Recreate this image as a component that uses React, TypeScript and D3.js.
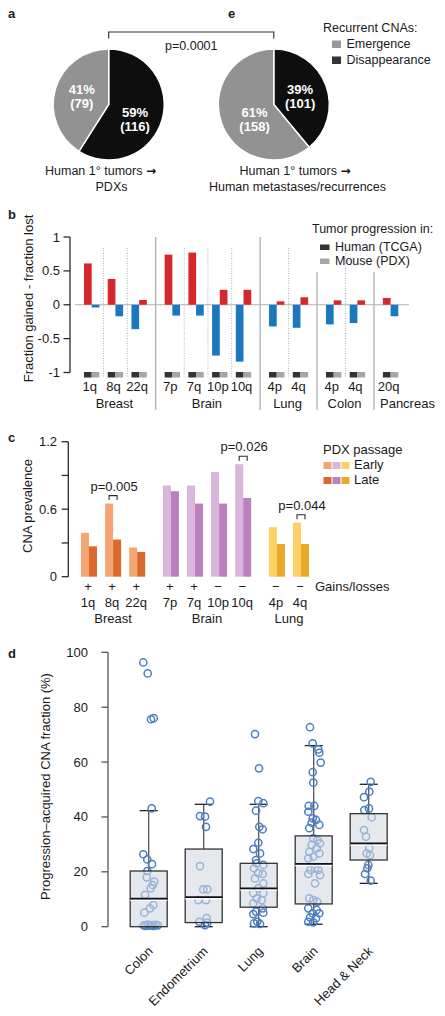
import React from "react";
import * as d3 from "d3";

const W = 445;
const H = 1016;
const FONT = "'Liberation Sans', Arial, Helvetica, sans-serif";

// ---------------- Panels a / e : pies ----------------
const pieCategories = ["Emergence", "Disappearance"];
const pieLegendColors = ["#999999", "#333333"];
const pieSliceColors = ["#0e0e0e", "#929292"]; // slice order: disappearance, emergence
const pieAPercent = [59, 41];
const pieACounts = [116, 79];
const pieEPercent = [39, 61];
const pieECounts = [101, 158];
const pieAELabelsA = ["Human 1° tumors ", "PDXs"];
const pieAELabelsE = ["Human 1° tumors ", "Human metastases/recurrences"];
const pieAEPValue = "p=0.0001";

// ---------------- Panel b ----------------
const bArms = ["1q", "8q", "22q", "7p", "7q", "10p", "10q", "4p", "4q", "4p", "4q", "20q"];
const bTissues = ["Breast", "Breast", "Breast", "Brain", "Brain", "Brain", "Brain", "Lung", "Lung", "Colon", "Colon", "Pancreas"];
const bHuman = [0.61, 0.38, -0.36, 0.74, 0.77, -0.75, -0.84, -0.32, -0.34, -0.29, -0.27, 0.1];
const bMouse = [-0.04, -0.17, 0.07, -0.16, -0.16, 0.22, 0.22, 0.05, 0.11, 0.065, 0.065, -0.17];
const bTicks = [1, 0.5, 0, -0.5, -1];
const bLegend = ["Human (TCGA)", "Mouse (PDX)"];

// ---------------- Panel c ----------------
const cArms = ["1q", "8q", "22q", "7p", "7q", "10p", "10q", "4p", "4q"];
const cTissues = ["Breast", "Breast", "Breast", "Brain", "Brain", "Brain", "Brain", "Lung", "Lung"];
const cSigns = ["+", "+", "+", "+", "+", "\u2212", "\u2212", "\u2212", "\u2212"];
const cEarly = [0.39, 0.65, 0.26, 0.81, 0.81, 0.93, 1.0, 0.44, 0.48];
const cLate = [0.27, 0.33, 0.22, 0.76, 0.65, 0.65, 0.7, 0.29, 0.29];
const cTicks = [0, 0.3, 0.6, 0.9, 1.2];
const cTickLabels = ["0", "", "0.6", "", "1.2"];
const cPIndex = [1, 6, 8];
const cPText = ["p=0.005", "p=0.026", "p=0.044"];
const cTissueOrder = ["Breast", "Brain", "Lung"];
const cEarlyColors = ["#f5a571", "#dab5dc", "#fcd067"];
const cLateColors = ["#d96a2b", "#bb81bf", "#e9a825"];

// ---------------- Panel d ----------------
const dGroups = ["Colon", "Endometrium", "Lung", "Brain", "Head & Neck"];
const dQ1 = [0, 1.5, 7.1, 8.3, 24.3];
const dMedian = [10.2, 10.8, 14.0, 22.9, 30.4];
const dQ3 = [20.3, 28.3, 23.1, 33.1, 41.2];
const dLow = [0, 0, 0, 0.9, 15.8];
const dHigh = [42.3, 44.6, 44.6, 66.0, 51.9];
const dTicks = [0, 20, 40, 60, 80, 100];

const dColonVals = [96.3, 92.3, 75.6, 76.0, 43.1, 26.4, 24.5, 22.8, 20.3, 18.0, 16.4, 15.2, 14.0, 11.6, 7.9, 6.7, 5.1, 0.5, 0.3, 0.8, 0.4, 0.6, 0.3, 0.7, 0.5];
const dColonJit = [-5.4, -1, 2.3, 5, 3, -5.4, -1.4, 3.3, -1.4, -2, 5.6, 4, 2, -3.7, 4.6, 1.3, -4.4, -5, -3, -1, 1, 3, 5, 7, 9];
const dEndoVals = [45.6, 40.3, 40.1, 36.4, 22.1, 13.6, 13.6, 9.7, 9.7, 3.1, 1.8, 1.5, 0.6];
const dEndoJit = [6.3, -3.7, 1.3, 2.3, -3.7, -0.4, 3.6, -5.4, 2.3, 3, -4.4, 3.6, 1.3];
const dLungVals = [70.2, 57.7, 45.8, 45.0, 42.3, 36.4, 35.5, 30.6, 28.3, 26.7, 24.3, 23.1, 22.5, 21.3, 19.5, 19.2, 17.6, 15.8, 14.0, 12.2, 12.2, 10.3, 9.7, 8.5, 6.7, 5.5, 4.6, 5.1, 1.2, 1.0, 1.8];
const dLungJit = [-3.7, 0.3, -0.4, 4.6, -2.7, 0.6, 4, -0.4, -5.4, 1.3, -2.7, -2, 4.6, -4.7, -0.4, 4, -3.7, 4.6, -0.4, -5.4, 4.6, -2, 3, -5.4, 4, -2.7, -5.4, 4.6, -4.7, 1.3, -1.4];
const dBrainVals = [72.7, 66.8, 64.6, 63.4, 59.8, 56.3, 52.5, 44.0, 44.0, 41.9, 39.5, 38.9, 37.9, 37.1, 35.9, 32.2, 31.6, 30.4, 29.8, 28.6, 27.3, 26.7, 25.5, 24.9, 21.3, 20.7, 20.7, 19.2, 18.8, 15.8, 10.3, 9.7, 9.1, 6.7, 6.1, 4.9, 4.9, 3.4, 3.1, 1.8, 1.6];
const dBrainJit = [-3.7, -1, 4.6, 5.6, 7, -1, -0.4, -5, 0.6, -5.4, -1, 2.3, -2, 5.6, -4.4, -0.4, 3.6, 6.3, -2, 3, -4.4, 5.6, -0.4, -5.4, 1.3, -3, 4.6, -5.4, 6.3, 1.3, -4.4, -0.4, 3.6, -5.4, 3, -1, 5.6, -3.7, 2.3, -5.4, -0.4];
const dHNVals = [52.8, 49.2, 47.2, 42.5, 43.1, 39.9, 35.2, 32.8, 28.6, 26.7, 26.1, 22.5, 21.3, 19.2, 16.8];
const dHNJit = [2, 0.6, -4.7, -4.4, 0.3, 3, -4.7, -2.7, 0.6, -2, 1.3, -0.4, -1.4, -3.7, 2];
const dPointVals = [dColonVals, dEndoVals, dLungVals, dBrainVals, dHNVals];
const dPointJit = [dColonJit, dEndoJit, dLungJit, dBrainJit, dHNJit];

const RED = "#d5272c";
const BLUE = "#1c78bd";
const AXIS = "#2a2a2a";

function PanelLetter({ x, y, t }: { x: number; y: number; t: string }) {
  return (
    <text x={x} y={y} fontWeight="bold" fontSize={13}>
      {t}
    </text>
  );
}

function Pie({ cx, cy, percents, counts, nudges }: any) {
  const R = 55.5;
  const arcs = d3.pie<number>().sort(null).value((d) => d)(percents);
  const arc = d3.arc<d3.PieArcDatum<number>>().innerRadius(0).outerRadius(R);
  const labelArc = d3.arc<d3.PieArcDatum<number>>().innerRadius(0).outerRadius(58);
  return (
    <g transform={`translate(${cx},${cy})`}>
      {arcs.map((a, i) => (
        <path key={i} d={arc(a) || ""} fill={pieSliceColors[i]} stroke="#fff" strokeWidth={1.4} />
      ))}
      {arcs.map((a, i) => {
        const [x, y] = labelArc.centroid(a);
        const lx = x + nudges[i][0];
        const ly = y + nudges[i][1];
        return (
          <g key={"l" + i} fill="#fff" fontWeight="bold" fontSize={13} textAnchor="middle">
            <text x={lx} y={ly - 1.5}>{percents[i]}%</text>
            <text x={lx} y={ly + 12.5}>({counts[i]})</text>
          </g>
        );
      })}
    </g>
  );
}

function Arrowed({ x, y, t }: { x: number; y: number; t: string }) {
  return (
    <text x={x} y={y} textAnchor="middle">
      {t}
      <tspan fontFamily="'DejaVu Sans', sans-serif" fontSize={12} fontWeight="bold">
        {"\u2192"}
      </tspan>
    </text>
  );
}

function PanelAE() {
  const cxA = 108.7;
  const cxE = 273.8;
  const cy = 104.5;
  return (
    <g>
      <PanelLetter x={8} y={18} t="a" />
      <PanelLetter x={228} y={18} t="e" />
      <Pie cx={cxA} cy={cy} percents={pieAPercent} counts={pieACounts} nudges={[[-1.5, 6], [1, -0.5]]} />
      <Pie cx={cxE} cy={cy} percents={pieEPercent} counts={pieECounts} nudges={[[-1, 1], [8, 4.5]]} />
      <path d={`M${cxA},38.5V32H${cxE}V38.5`} fill="none" stroke={AXIS} strokeWidth={1.1} />
      <text x={(cxA + cxE) / 2} y={50} textAnchor="middle">{pieAEPValue}</text>
      <text x={323} y={32}>Recurrent CNAs:</text>
      {pieCategories.map((c, i) => (
        <g key={c}>
          <rect x={332} y={40.5 + i * 16} width={9} height={7.5} fill={pieLegendColors[i]} />
          <text x={346.5} y={48 + i * 16}>{c}</text>
        </g>
      ))}
      <Arrowed x={100.5} y={175} t={pieAELabelsA[0]} />
      <text x={111.5} y={191} textAnchor="middle">{pieAELabelsA[1]}</text>
      <Arrowed x={295} y={175} t={pieAELabelsE[0]} />
      <text x={297.5} y={191} textAnchor="middle">{pieAELabelsE[1]}</text>
    </g>
  );
}

function groupIndexOf(tissues: string[]) {
  const order: string[] = [];
  tissues.forEach((t) => {
    if (!order.includes(t)) order.push(t);
  });
  return { order, idx: tissues.map((t) => order.indexOf(t)) };
}

function PanelB() {
  const y = d3.scaleLinear().domain([-1, 1]).range([372.5, 237]);
  const { order, idx } = groupIndexOf(bTissues);
  const slots = bArms.map((_, i) => i + idx[i] * 0.4);
  const x = d3.scaleLinear().domain([0, 12.6]).range([91.7, 390.6]);
  const cxs = slots.map((s) => x(s));
  const bw = 7.7;
  const y0 = y(0);
  const seps = cxs.slice(0, -1).map((c, i) => ({
    xm: (c + cxs[i + 1]) / 2,
    solid: bTissues[i] !== bTissues[i + 1],
  }));
  return (
    <g>
      <PanelLetter x={8} y={219} t="b" />
      <text transform={`translate(32.5,298.5) rotate(-90)`} textAnchor="middle" fontSize={13}>
        Fraction gained - fraction lost
      </text>
      <line x1={70} x2={70} y1={y(1)} y2={y(-1)} stroke={AXIS} strokeWidth={1.3} />
      {bTicks.map((t) => (
        <g key={t}>
          <line x1={63.5} x2={70} y1={y(t)} y2={y(t)} stroke={AXIS} strokeWidth={1.3} />
          <text x={60} y={y(t) + 4.5} textAnchor="end" fontSize={13}>
            {t}
          </text>
        </g>
      ))}
      {seps.map((s, i) =>
        s.solid ? (
          <line key={i} x1={s.xm} x2={s.xm} y1={s.xm > 300 ? 272 : 237} y2={410} stroke="#9a9a9a" strokeWidth={1} />
        ) : (
          <line key={i} x1={s.xm} x2={s.xm} y1={248} y2={378} stroke="#a9b4c4" strokeWidth={1} strokeDasharray="1,1.5" />
        )
      )}
      <line x1={75} x2={409} y1={y0} y2={y0} stroke="#b0b0b0" strokeWidth={1.2} />
      {cxs.map((c, i) => (
        <g key={i}>
          <rect x={c - bw} y={Math.min(y(bHuman[i]), y0)} width={bw} height={Math.abs(y(bHuman[i]) - y0)} fill={bHuman[i] >= 0 ? RED : BLUE} />
          <rect x={c} y={Math.min(y(bMouse[i]), y0)} width={bw} height={Math.abs(y(bMouse[i]) - y0)} fill={bMouse[i] >= 0 ? RED : BLUE} />
          <rect x={c - bw} y={372} width={bw} height={5.5} fill="#333" />
          <rect x={c} y={372} width={bw} height={5.5} fill="#a6a6a6" />
          <text x={c - 2} y={391} textAnchor="middle" fontSize={13}>
            {bArms[i]}
          </text>
        </g>
      ))}
      {order.map((t, gi) => {
        const members = cxs.filter((_, i) => idx[i] === gi);
        const last = gi === order.length - 1;
        const leftSep = seps.filter((s) => s.solid)[gi - 1];
        return last ? (
          <text key={t} x={leftSep.xm + 6} y={408} fontSize={13}>
            {t}
          </text>
        ) : (
          <text key={t} x={d3.mean(members)! - 1} y={408} textAnchor="middle" fontSize={13}>
            {t}
          </text>
        );
      })}
      <text x={312} y={232.5}>Tumor progression in:</text>
      {bLegend.map((l, i) => (
        <g key={l}>
          <rect x={320} y={244.5 + i * 14} width={9.5} height={5.5} fill={i === 0 ? "#333" : "#a6a6a6"} />
          <text x={335} y={251 + i * 14}>{l}</text>
        </g>
      ))}
    </g>
  );
}

function PanelC() {
  const y = d3.scaleLinear().domain([0, 1.2]).range([576.7, 441.7]);
  const { idx } = groupIndexOf(cTissues);
  const slots = cArms.map((_, i) => i + idx[i] * 0.4);
  const x = d3.scaleLinear().domain([0, 8.8]).range([89, 301]);
  const cxs = slots.map((s) => x(s));
  const bw = 8;
  const y0 = y(0);
  return (
    <g>
      <PanelLetter x={8} y={442} t="c" />
      <text transform={`translate(31.5,506) rotate(-90)`} textAnchor="middle" fontSize={13}>
        CNA prevalence
      </text>
      <line x1={68.3} x2={68.3} y1={y(1.2)} y2={y0} stroke={AXIS} strokeWidth={1.3} />
      {cTicks.map((t, i) => (
        <g key={t}>
          <line x1={61.7} x2={68.3} y1={y(t)} y2={y(t)} stroke={AXIS} strokeWidth={1.3} />
          <text x={57} y={y(t) + 4.5} textAnchor="end" fontSize={13}>
            {cTickLabels[i]}
          </text>
        </g>
      ))}
      {cxs.map((c, i) => {
        const g = cTissueOrder.indexOf(cTissues[i]);
        return (
          <g key={i}>
            <rect x={c - bw} y={y(cEarly[i])} width={bw} height={y0 - y(cEarly[i])} fill={cEarlyColors[g]} />
            <rect x={c} y={y(cLate[i])} width={bw} height={y0 - y(cLate[i])} fill={cLateColors[g]} />
            <text x={c - 1} y={591} textAnchor="middle" fontSize={13}>
              {cSigns[i]}
            </text>
            <text x={c - 1} y={606.5} textAnchor="middle" fontSize={13}>
              {cArms[i]}
            </text>
          </g>
        );
      })}
      {cTissueOrder.map((t, gi) => {
        const members = cxs.filter((_, i) => idx[i] === gi);
        return (
          <text key={t} x={d3.mean(members)!} y={623} textAnchor="middle" fontSize={13}>
            {t}
          </text>
        );
      })}
      <text x={315} y={591} fontSize={13}>
        Gains/losses
      </text>
      {cPIndex.map((pi, k) => {
        const c = cxs[pi];
        const by = y(cEarly[pi]) - 8;
        return (
          <g key={k}>
            <path d={`M${c - 4},${by + 4.5}V${by}H${c + 4}V${by + 4.5}`} fill="none" stroke={AXIS} strokeWidth={1.1} />
            <text x={c + 1} y={by - 5} textAnchor="middle" fontSize={13}>
              {cPText[k]}
            </text>
          </g>
        );
      })}
      <text x={323} y={454} fontSize={13}>
        PDX passage
      </text>
      {["Early", "Late"].map((l, r) => (
        <g key={l}>
          {cTissueOrder.map((_, gi) => (
            <rect key={gi} x={323.5 + gi * 9} y={462 + r * 15} width={8} height={7} fill={r === 0 ? cEarlyColors[gi] : cLateColors[gi]} />
          ))}
          <text x={354} y={469 + r * 15} fontSize={13}>
            {l}
          </text>
        </g>
      ))}
    </g>
  );
}

function PanelD() {
  const y = d3.scaleLinear().domain([0, 100]).range([926.7, 652.3]);
  const x = d3.scaleBand().domain(dGroups).range([121.2, 396.2]).padding(0);
  const bw = 37;
  return (
    <g>
      <PanelLetter x={8} y={658} t="d" />
      <text transform={`translate(49.5,786.5) rotate(-90)`} textAnchor="middle" fontSize={13}>
        Progression–acquired CNA fraction (%)
      </text>
      <line x1={108} x2={108} y1={y(100)} y2={y(0)} stroke="#555" strokeWidth={1.3} />
      {dTicks.map((t) => (
        <g key={t}>
          <line x1={101.5} x2={108} y1={y(t)} y2={y(t)} stroke="#555" strokeWidth={1.3} />
          <text x={88} y={y(t) + 4.5} textAnchor="end" fontSize={13}>
            {t}
          </text>
        </g>
      ))}
      {dGroups.map((g, i) => {
        const cx = x(g)! + x.bandwidth() / 2;
        return (
          <g key={"w" + g}>
            <line x1={cx} x2={cx} y1={y(dQ3[i])} y2={y(dHigh[i])} stroke="#555" strokeWidth={1.3} />
            <line x1={cx} x2={cx} y1={y(dQ1[i])} y2={y(dLow[i])} stroke="#555" strokeWidth={1.3} />
            <line x1={cx - 9} x2={cx + 9} y1={y(dHigh[i])} y2={y(dHigh[i])} stroke="#222" strokeWidth={1.3} />
            <line x1={cx - 9} x2={cx + 9} y1={y(dLow[i])} y2={y(dLow[i])} stroke="#222" strokeWidth={1.3} />
          </g>
        );
      })}
      {dGroups.map((g, i) => {
        const cx = x(g)! + x.bandwidth() / 2;
        return (
          <g key={"p" + g}>
            {dPointVals[i].map((v, k) => (
              <circle key={k} cx={cx + dPointJit[i][k]} cy={y(v)} r={3.6} fill="none" stroke="#4a7fc3" strokeWidth={1.5} />
            ))}
          </g>
        );
      })}
      {dGroups.map((g, i) => {
        const cx = x(g)! + x.bandwidth() / 2;
        return (
          <g key={"b" + g}>
            <rect x={cx - bw / 2} y={y(dQ3[i])} width={bw} height={y(dQ1[i]) - y(dQ3[i])} fill="#d3d9e2" fillOpacity={0.58} stroke="#333" strokeWidth={1.3} />
            <line x1={cx - bw / 2} x2={cx + bw / 2} y1={y(dMedian[i]) + 1.8} y2={y(dMedian[i]) + 1.8} stroke="#fff" strokeWidth={1.2} />
            <line x1={cx - bw / 2} x2={cx + bw / 2} y1={y(dMedian[i])} y2={y(dMedian[i])} stroke="#111" strokeWidth={1.8} />
            <text transform={`translate(${cx + 5},952) rotate(-45)`} textAnchor="end" fontSize={13}>
              {g}
            </text>
          </g>
        );
      })}
    </g>
  );
}

export default function App() {
  return (
    <svg
      width={W}
      height={H}
      viewBox={`0 0 ${W} ${H}`}
      style={{ position: "absolute", left: 0, top: 0, background: "#fff" }}
      fontFamily={FONT}
      fontSize={12.5}
      fill="#1a1a1a"
    >
      <PanelAE />
      <PanelB />
      <PanelC />
      <PanelD />
    </svg>
  );
}
